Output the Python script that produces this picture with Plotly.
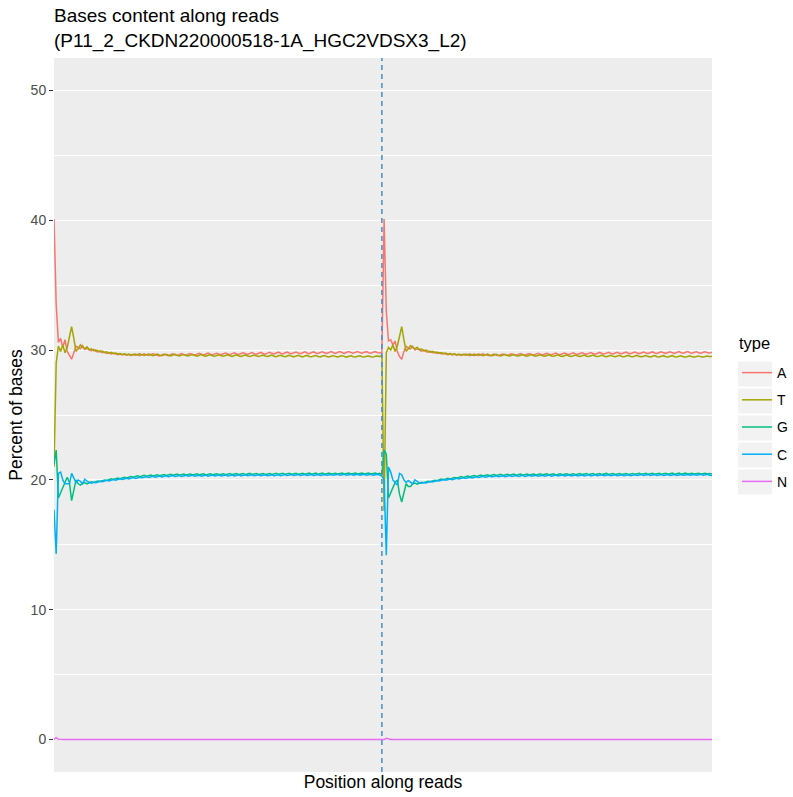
import plotly.graph_objects as go

# ---------------- data (percent of bases per position) ----------------
read_len = 150
positions = list(range(1, 2 * read_len + 1))
boundary = 150

A_read1 = [
    40.10, 33.50, 30.60, 30.90, 30.20, 30.80, 29.90, 29.60, 29.30, 29.80,
    30.30, 30.20, 30.10, 30.35, 30.05, 30.15, 30.00, 29.95, 30.05, 29.90,
    29.85, 29.95, 29.80, 29.85, 29.75, 29.80, 29.70, 29.78, 29.72, 29.65,
    29.70, 29.62, 29.68, 29.60, 29.66, 29.58, 29.64, 29.70, 29.62, 29.57,
    29.65, 29.71, 29.63, 29.59, 29.67, 29.72, 29.64, 29.58, 29.55, 29.63,
    29.69, 29.61, 29.57, 29.65, 29.71, 29.64, 29.59, 29.67, 29.73, 29.65,
    29.60, 29.68, 29.74, 29.66, 29.61, 29.69, 29.75, 29.68, 29.62, 29.70,
    29.77, 29.69, 29.63, 29.71, 29.76, 29.69, 29.64, 29.72, 29.78, 29.70,
    29.65, 29.73, 29.79, 29.71, 29.66, 29.74, 29.80, 29.72, 29.67, 29.75,
    29.81, 29.73, 29.68, 29.76, 29.82, 29.74, 29.69, 29.77, 29.83, 29.75,
    29.70, 29.78, 29.84, 29.76, 29.71, 29.79, 29.84, 29.76, 29.72, 29.80,
    29.85, 29.77, 29.72, 29.80, 29.86, 29.78, 29.73, 29.81, 29.86, 29.78,
    29.74, 29.82, 29.87, 29.79, 29.74, 29.82, 29.88, 29.80, 29.75, 29.83,
    29.88, 29.80, 29.75, 29.83, 29.89, 29.81, 29.76, 29.84, 29.89, 29.81,
    29.76, 29.84, 29.88, 29.80, 29.76, 29.84, 29.88, 29.80, 29.77, 29.82,
]
A_read2 = [
    40.10, 33.00, 30.70, 30.80, 30.40, 30.70, 29.90, 29.50, 29.30, 29.90,
    30.30, 30.15, 30.10, 30.30, 30.00, 30.10, 29.98, 29.92, 30.00, 29.88,
    29.84, 29.92, 29.80, 29.84, 29.74, 29.80, 29.70, 29.76, 29.70, 29.64,
    29.70, 29.62, 29.67, 29.60, 29.65, 29.58, 29.64, 29.69, 29.61, 29.57,
    29.64, 29.70, 29.62, 29.58, 29.66, 29.71, 29.63, 29.58, 29.56, 29.63,
    29.69, 29.61, 29.57, 29.65, 29.70, 29.63, 29.59, 29.66, 29.72, 29.64,
    29.60, 29.67, 29.73, 29.65, 29.61, 29.68, 29.74, 29.67, 29.62, 29.69,
    29.76, 29.68, 29.63, 29.70, 29.75, 29.68, 29.64, 29.71, 29.77, 29.69,
    29.65, 29.72, 29.78, 29.70, 29.66, 29.73, 29.79, 29.71, 29.67, 29.74,
    29.80, 29.72, 29.68, 29.75, 29.81, 29.73, 29.69, 29.76, 29.82, 29.74,
    29.70, 29.77, 29.83, 29.75, 29.71, 29.78, 29.83, 29.75, 29.72, 29.79,
    29.84, 29.76, 29.72, 29.79, 29.85, 29.77, 29.73, 29.80, 29.85, 29.77,
    29.74, 29.81, 29.86, 29.78, 29.74, 29.81, 29.87, 29.79, 29.75, 29.82,
    29.87, 29.79, 29.75, 29.82, 29.88, 29.80, 29.76, 29.83, 29.88, 29.80,
    29.76, 29.83, 29.87, 29.79, 29.76, 29.83, 29.87, 29.79, 29.77, 29.84,
]
T_read1 = [
    21.00, 29.00, 30.30, 29.90, 30.40, 29.80, 30.20, 30.90, 31.80, 30.90,
    29.90, 30.10, 30.40, 30.20, 30.10, 30.25, 30.05, 30.10, 29.95, 30.00,
    29.90, 29.85, 29.92, 29.80, 29.86, 29.76, 29.82, 29.72, 29.78, 29.70,
    29.74, 29.66, 29.72, 29.64, 29.70, 29.62, 29.68, 29.60, 29.66, 29.71,
    29.63, 29.58, 29.65, 29.70, 29.62, 29.57, 29.64, 29.69, 29.61, 29.56,
    29.63, 29.68, 29.60, 29.55, 29.62, 29.67, 29.59, 29.55, 29.61, 29.66,
    29.58, 29.54, 29.61, 29.66, 29.58, 29.53, 29.60, 29.65, 29.57, 29.53,
    29.60, 29.64, 29.57, 29.52, 29.59, 29.64, 29.56, 29.52, 29.59, 29.63,
    29.56, 29.51, 29.58, 29.63, 29.55, 29.51, 29.58, 29.62, 29.55, 29.50,
    29.57, 29.62, 29.54, 29.50, 29.57, 29.61, 29.54, 29.50, 29.56, 29.61,
    29.53, 29.49, 29.56, 29.60, 29.53, 29.49, 29.55, 29.60, 29.52, 29.48,
    29.55, 29.59, 29.52, 29.48, 29.55, 29.59, 29.51, 29.48, 29.54, 29.58,
    29.51, 29.47, 29.54, 29.58, 29.50, 29.47, 29.53, 29.57, 29.50, 29.47,
    29.53, 29.57, 29.50, 29.46, 29.53, 29.56, 29.49, 29.46, 29.52, 29.56,
    29.49, 29.46, 29.52, 29.55, 29.49, 29.46, 29.52, 29.55, 29.50, 29.62,
]
T_read2 = [
    17.60, 29.80, 30.20, 30.00, 30.40, 29.90, 30.30, 31.00, 31.80, 30.80,
    29.90, 30.10, 30.35, 30.20, 30.10, 30.22, 30.04, 30.08, 29.94, 30.00,
    29.90, 29.84, 29.91, 29.80, 29.85, 29.76, 29.81, 29.72, 29.77, 29.69,
    29.73, 29.66, 29.71, 29.63, 29.70, 29.62, 29.67, 29.60, 29.66, 29.70,
    29.62, 29.58, 29.64, 29.70, 29.61, 29.57, 29.63, 29.69, 29.60, 29.56,
    29.62, 29.68, 29.59, 29.55, 29.61, 29.67, 29.58, 29.55, 29.60, 29.66,
    29.57, 29.54, 29.60, 29.66, 29.57, 29.53, 29.59, 29.65, 29.56, 29.53,
    29.59, 29.64, 29.56, 29.52, 29.58, 29.64, 29.55, 29.52, 29.58, 29.63,
    29.55, 29.51, 29.57, 29.63, 29.54, 29.51, 29.57, 29.62, 29.54, 29.50,
    29.56, 29.62, 29.53, 29.50, 29.56, 29.61, 29.53, 29.50, 29.55, 29.61,
    29.52, 29.49, 29.55, 29.60, 29.52, 29.49, 29.54, 29.60, 29.51, 29.48,
    29.54, 29.59, 29.51, 29.48, 29.54, 29.59, 29.50, 29.48, 29.53, 29.58,
    29.50, 29.47, 29.53, 29.58, 29.49, 29.47, 29.52, 29.57, 29.49, 29.47,
    29.52, 29.57, 29.49, 29.46, 29.52, 29.56, 29.48, 29.46, 29.51, 29.56,
    29.48, 29.46, 29.51, 29.55, 29.48, 29.46, 29.51, 29.55, 29.49, 29.52,
]
G_read1 = [
    21.20, 22.30, 18.60, 19.00, 19.40, 19.70, 20.20, 19.80, 18.40, 19.20,
    20.00, 19.70, 19.60, 19.75, 19.80, 19.70, 19.78, 19.85, 19.80, 19.88,
    19.92, 19.88, 19.95, 20.00, 19.96, 20.04, 20.08, 20.03, 20.10, 20.14,
    20.09, 20.16, 20.20, 20.15, 20.22, 20.26, 20.20, 20.27, 20.31, 20.25,
    20.30, 20.35, 20.28, 20.33, 20.38, 20.31, 20.36, 20.40, 20.33, 20.38,
    20.42, 20.35, 20.40, 20.44, 20.36, 20.41, 20.45, 20.37, 20.42, 20.46,
    20.38, 20.43, 20.46, 20.38, 20.43, 20.47, 20.39, 20.44, 20.47, 20.39,
    20.44, 20.48, 20.40, 20.44, 20.48, 20.40, 20.45, 20.48, 20.40, 20.45,
    20.49, 20.41, 20.45, 20.49, 20.41, 20.46, 20.49, 20.41, 20.46, 20.50,
    20.42, 20.46, 20.50, 20.42, 20.46, 20.50, 20.42, 20.47, 20.50, 20.42,
    20.47, 20.51, 20.43, 20.47, 20.51, 20.43, 20.47, 20.51, 20.43, 20.48,
    20.51, 20.43, 20.48, 20.51, 20.44, 20.48, 20.52, 20.44, 20.48, 20.52,
    20.44, 20.48, 20.52, 20.44, 20.49, 20.52, 20.45, 20.49, 20.52, 20.45,
    20.49, 20.53, 20.45, 20.49, 20.53, 20.45, 20.49, 20.53, 20.46, 20.50,
    20.53, 20.46, 20.50, 20.53, 20.46, 20.50, 20.53, 20.46, 20.50, 20.40,
]
G_read2 = [
    22.30, 22.00, 18.60, 19.00, 19.40, 19.80, 20.00, 18.90, 18.30, 19.00,
    19.70, 19.50, 19.50, 19.70, 19.76, 19.68, 19.76, 19.82, 19.78, 19.86,
    19.90, 19.86, 19.93, 19.98, 19.94, 20.02, 20.06, 20.01, 20.08, 20.12,
    20.08, 20.15, 20.19, 20.14, 20.21, 20.25, 20.19, 20.26, 20.30, 20.24,
    20.29, 20.34, 20.27, 20.32, 20.37, 20.30, 20.35, 20.39, 20.32, 20.37,
    20.41, 20.34, 20.39, 20.43, 20.35, 20.40, 20.44, 20.36, 20.41, 20.45,
    20.37, 20.42, 20.45, 20.37, 20.42, 20.46, 20.38, 20.43, 20.46, 20.38,
    20.43, 20.47, 20.39, 20.43, 20.47, 20.39, 20.44, 20.47, 20.39, 20.44,
    20.48, 20.40, 20.44, 20.48, 20.40, 20.45, 20.48, 20.40, 20.45, 20.49,
    20.41, 20.45, 20.49, 20.41, 20.45, 20.49, 20.41, 20.46, 20.49, 20.41,
    20.46, 20.50, 20.42, 20.46, 20.50, 20.42, 20.46, 20.50, 20.42, 20.47,
    20.50, 20.42, 20.47, 20.50, 20.43, 20.47, 20.51, 20.43, 20.47, 20.51,
    20.43, 20.47, 20.51, 20.43, 20.48, 20.51, 20.44, 20.48, 20.51, 20.44,
    20.48, 20.52, 20.44, 20.48, 20.52, 20.44, 20.48, 20.52, 20.45, 20.49,
    20.52, 20.45, 20.49, 20.52, 20.45, 20.49, 20.52, 20.45, 20.49, 20.46,
]
C_read1 = [
    17.70, 14.30, 20.50, 20.60, 20.00, 19.70, 19.70, 19.70, 20.50, 20.10,
    19.80, 20.00, 19.90, 19.70, 20.05, 19.90, 19.80, 19.75, 19.82, 19.78,
    19.84, 19.90, 19.86, 19.93, 19.97, 19.92, 19.99, 20.03, 19.98, 20.05,
    20.08, 20.03, 20.10, 20.13, 20.08, 20.15, 20.18, 20.12, 20.19, 20.21,
    20.16, 20.22, 20.25, 20.19, 20.25, 20.28, 20.21, 20.27, 20.30, 20.23,
    20.29, 20.32, 20.25, 20.30, 20.33, 20.26, 20.31, 20.34, 20.27, 20.32,
    20.35, 20.28, 20.33, 20.36, 20.28, 20.33, 20.36, 20.29, 20.34, 20.37,
    20.29, 20.34, 20.37, 20.30, 20.35, 20.38, 20.30, 20.35, 20.38, 20.31,
    20.35, 20.38, 20.31, 20.36, 20.39, 20.31, 20.36, 20.39, 20.32, 20.36,
    20.39, 20.32, 20.37, 20.40, 20.32, 20.37, 20.40, 20.33, 20.37, 20.40,
    20.33, 20.38, 20.40, 20.33, 20.38, 20.41, 20.34, 20.38, 20.41, 20.34,
    20.38, 20.41, 20.34, 20.39, 20.41, 20.35, 20.39, 20.42, 20.35, 20.39,
    20.42, 20.35, 20.39, 20.42, 20.36, 20.40, 20.42, 20.36, 20.40, 20.43,
    20.36, 20.40, 20.43, 20.36, 20.40, 20.43, 20.37, 20.41, 20.43, 20.37,
    20.41, 20.43, 20.37, 20.41, 20.44, 20.37, 20.41, 20.44, 20.37, 20.30,
]
C_read2 = [
    20.00, 14.20, 21.00, 20.60, 20.00, 19.80, 19.60, 20.50, 20.40, 20.00,
    19.80, 19.95, 19.85, 19.70, 20.00, 19.88, 19.78, 19.74, 19.80, 19.76,
    19.82, 19.88, 19.85, 19.92, 19.96, 19.91, 19.98, 20.02, 19.97, 20.04,
    20.07, 20.02, 20.09, 20.12, 20.07, 20.14, 20.17, 20.11, 20.18, 20.20,
    20.15, 20.21, 20.24, 20.18, 20.24, 20.27, 20.20, 20.26, 20.29, 20.22,
    20.28, 20.31, 20.24, 20.29, 20.32, 20.25, 20.30, 20.33, 20.26, 20.31,
    20.34, 20.27, 20.32, 20.35, 20.27, 20.32, 20.35, 20.28, 20.33, 20.36,
    20.28, 20.33, 20.36, 20.29, 20.34, 20.37, 20.29, 20.34, 20.37, 20.30,
    20.34, 20.37, 20.30, 20.35, 20.38, 20.30, 20.35, 20.38, 20.31, 20.35,
    20.38, 20.31, 20.36, 20.39, 20.31, 20.36, 20.39, 20.32, 20.36, 20.39,
    20.32, 20.37, 20.39, 20.32, 20.37, 20.40, 20.33, 20.37, 20.40, 20.33,
    20.37, 20.40, 20.33, 20.38, 20.40, 20.34, 20.38, 20.41, 20.34, 20.38,
    20.41, 20.34, 20.38, 20.41, 20.35, 20.39, 20.41, 20.35, 20.39, 20.42,
    20.35, 20.39, 20.42, 20.35, 20.39, 20.42, 20.36, 20.40, 20.42, 20.36,
    20.40, 20.42, 20.36, 20.40, 20.43, 20.36, 20.40, 20.43, 20.36, 20.33,
]
N_read1 = [0.00, 0.15, 0.02] + [0.00] * 147
N_read2 = [0.00, 0.10, 0.02] + [0.00] * 147

series = {
    "A": A_read1 + A_read2,
    "T": T_read1 + T_read2,
    "G": G_read1 + G_read2,
    "C": C_read1 + C_read2,
    "N": N_read1 + N_read2,
}
colors = {"A": "#F8766D", "T": "#A3A500", "G": "#00BF7D", "C": "#00B0F6", "N": "#E76BF3"}

y_ticks = [0, 10, 20, 30, 40, 50]
title_text = "Bases content along reads<br>(P11_2_CKDN220000518-1A_HGC2VDSX3_L2)"
legend_title = "type"

# ---------------- figure geometry (pixels) ----------------
W, H = 793, 797
L, R, T, B = 54, 81, 58, 25
PW, PH = W - L - R, H - T - B


def px_to_paper_x(px):
    return (px - L) / PW


def px_to_paper_y(py):
    return (H - B - py) / PH


FONT = "Liberation Sans, Arial, Helvetica, sans-serif"
fig = go.Figure()
for name, vals in series.items():
    fig.add_trace(go.Scatter(
        x=positions, y=vals, mode="lines", name=name, legendgroup=name,
        line=dict(color=colors[name], width=1.5),
    ))

fig.add_vline(x=boundary, line=dict(color="#4C8BC9", width=1.5, dash="5px,4px"), layer="above")

# ggplot-like grey legend key backgrounds
key_centres = [374, 401, 428, 455, 482]
for cy in key_centres:
    fig.add_shape(type="rect", xref="paper", yref="paper",
                  x0=px_to_paper_x(738), x1=px_to_paper_x(772),
                  y0=px_to_paper_y(cy + 12.5), y1=px_to_paper_y(cy - 12.5),
                  fillcolor="#F2F2F2", line=dict(width=0), layer="below")

fig.add_annotation(text=legend_title, xref="paper", yref="paper",
                   x=px_to_paper_x(737), y=px_to_paper_y(343),
                   xanchor="left", yanchor="middle", showarrow=False,
                   font=dict(size=16.5, color="black"))

fig.update_layout(
    width=W, height=H,
    margin=dict(l=L, r=R, t=T, b=B, autoexpand=False),
    paper_bgcolor="white", plot_bgcolor="#EDEDED",
    font=dict(family=FONT, color="black"),
    title=dict(text=title_text, x=0, xref="paper", xanchor="left",
               y=1 - 22 / H, yref="container", yanchor="top",
               font=dict(size=19, color="black")),
    showlegend=True,
    legend=dict(x=px_to_paper_x(737), y=px_to_paper_y(357), xanchor="left", yanchor="top",
                font=dict(size=14), tracegroupgap=6,
                bgcolor="rgba(0,0,0,0)"),
)
fig.update_xaxes(range=[1, 300], showticklabels=False, ticks="", showgrid=False,
                 zeroline=False, showline=False,
                 title=dict(text="Position along reads", font=dict(size=17.5), standoff=3))
fig.update_yaxes(range=[-2.5, 52.5], tickvals=y_ticks, ticktext=[str(v) for v in y_ticks],
                 ticks="outside", ticklen=4, tickwidth=1, tickcolor="#333333",
                 tickfont=dict(size=14, color="#4D4D4D"),
                 showgrid=True, gridcolor="white", gridwidth=1.3,
                 minor=dict(dtick=5, tick0=0, showgrid=True, gridcolor="white", gridwidth=0.6, ticks=""),
                 zeroline=False, showline=False,
                 title=dict(text="Percent of bases", font=dict(size=17.5), standoff=3))

fig.write_html("out.html", config={"displayModeBar": False},
               post_script="document.body.style.margin='0';")
